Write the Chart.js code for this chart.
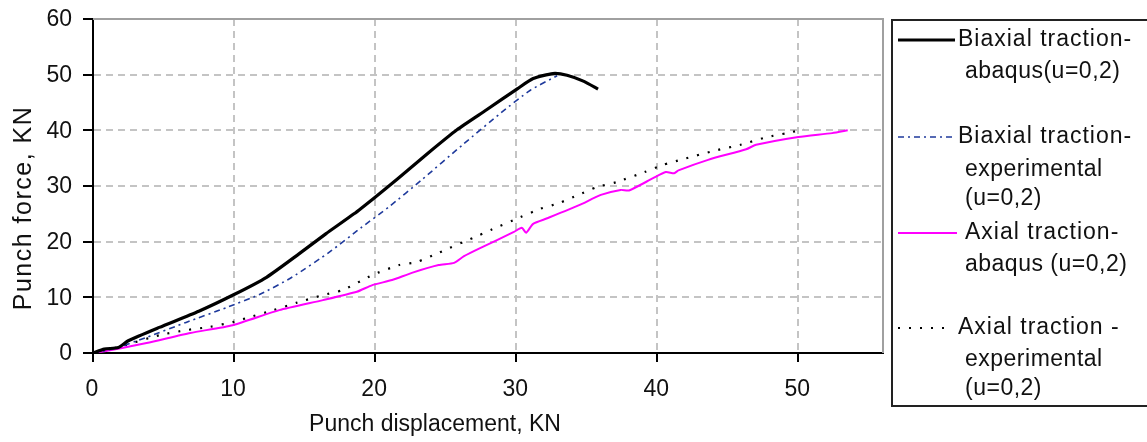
<!DOCTYPE html>
<html><head><meta charset="utf-8">
<script src="https://cdn.jsdelivr.net/npm/chart.js@4/dist/chart.umd.min.js"></script>
<style>html,body{margin:0;padding:0;background:#fff;overflow:hidden}#wrap{width:1147px;height:442px;position:relative}</style>
</head><body><div id="wrap"><canvas id="c" width="1147" height="442"></canvas></div>
<script>
// ---- data ----
const xTicks = [0, 10, 20, 30, 40, 50];
const yTicks = [0, 10, 20, 30, 40, 50, 60];
const xTitle = "Punch displacement, KN";
const yTitle = "Punch force, KN";

const biaxAbaqusX = [0, 0.8, 1.8, 2.5, 4.7, 7.5, 10, 12.3, 14.6, 16.5, 18.5, 20, 21.6, 23.7, 25.8, 27.9, 30.1, 31.2, 32.6, 33.6, 34.8, 35.8];
const biaxAbaqusY = [0, 0.7, 1.0, 2.2, 4.6, 7.5, 10.5, 13.6, 17.8, 21.4, 25.0, 28.0, 31.3, 35.8, 40.1, 43.7, 47.5, 49.3, 50.2, 49.9, 48.8, 47.4];

const biaxExpX = [0, 1.5, 3.8, 6.6, 9.5, 11.8, 14.1, 16.8, 19, 21, 23.3, 26.2, 28.9, 31, 32.9];
const biaxExpY = [0, 0.8, 2.8, 5.5, 8.2, 10.5, 13.6, 18.2, 22.5, 26.3, 31.1, 37.4, 43.1, 47.2, 49.8];

const axAbaqusX = [0, 1.2, 3.8, 6.9, 9.9, 13.2, 16.3, 18.7, 19.8, 21.2, 22.6, 24.5, 25.6, 26.3, 27.4, 29.8, 30.4, 30.7, 31.2, 32.2, 34.5, 36, 37.4, 38, 39.7, 40.6, 41.2, 41.5, 43.6, 46.3, 47, 50, 52.4, 53.5];
const axAbaqusY = [0, 0.5, 1.8, 3.6, 5.0, 7.7, 9.5, 11.0, 12.2, 13.1, 14.4, 15.8, 16.2, 17.4, 18.8, 21.7, 22.5, 21.6, 23.2, 24.2, 26.6, 28.4, 29.3, 29.2, 31.4, 32.5, 32.3, 32.8, 34.7, 36.6, 37.4, 38.8, 39.5, 40.0];

const axExpX = [0, 2, 4.7, 6.6, 8.3, 10, 10.9, 12.8, 14.4, 16.3, 17.7, 19.8, 21.7, 22.9, 24.5, 27.4, 28.2, 30.3, 31.7, 33, 34.4, 35.7, 37.1, 39.1, 40.4, 41.8, 44, 45.9, 47.8, 49.2, 50.4];
const axExpY = [0, 1.2, 3.2, 4.1, 4.7, 5.6, 6.3, 7.7, 9.0, 10.4, 11.3, 14.0, 15.8, 16.3, 18.0, 21.2, 22.1, 24.4, 25.9, 26.9, 28.4, 29.8, 30.7, 32.5, 33.8, 34.8, 36.3, 37.4, 38.8, 39.5, 40.2];

const seriesLabels = [
  ["Biaxial traction-", "abaqus(u=0,2)"],
  ["Biaxial traction-", "experimental", "(u=0,2)"],
  ["Axial traction-", "abaqus (u=0,2)"],
  ["Axial traction -", "experimental", "(u=0,2)"]
];

const pts = (xs, ys) => xs.map((x, i) => ({x: x, y: ys[i]}));

const FONT = "'Liberation Sans', Arial, sans-serif";

const datasets = [
  {label: seriesLabels[0].join(' '), data: pts(biaxAbaqusX, biaxAbaqusY), borderColor: '#000000', borderWidth: 3.2, borderDash: []},
  {label: seriesLabels[1].join(' '), data: pts(biaxExpX, biaxExpY), borderColor: '#1f3a9c', borderWidth: 1.6, borderDash: [6, 4, 2, 4]},
  {label: seriesLabels[2].join(' '), data: pts(axAbaqusX, axAbaqusY), borderColor: '#ff00ff', borderWidth: 2, borderDash: []},
  {label: seriesLabels[3].join(' '), data: pts(axExpX, axExpY), borderColor: '#000000', borderWidth: 2.2, borderDash: [2, 9]}
].map(d => Object.assign(d, {showLine: true, pointRadius: 0, fill: false, tension: 0.2}));

// frame (top/right grey borders)
const framePlugin = {
  id: 'frame',
  beforeDatasetsDraw(chart) {
    const {ctx, chartArea: a} = chart;
    ctx.save();
    ctx.strokeStyle = '#a0a0a0';
    ctx.lineWidth = 2;
    ctx.beginPath();
    ctx.moveTo(a.left, a.top);
    ctx.lineTo(a.right, a.top);
    ctx.lineTo(a.right, a.bottom);
    ctx.stroke();
    ctx.restore();
  }
};

// tick marks, tick labels, titles + custom legend
const annotPlugin = {
  id: 'annot',
  afterDraw(chart) {
    const ctx = chart.ctx;
    const xs = chart.scales.x, ys = chart.scales.y;
    const a = chart.chartArea;
    ctx.save();
    // tick marks
    ctx.strokeStyle = '#000';
    ctx.lineWidth = 2;
    ctx.setLineDash([]);
    ctx.beginPath();
    yTicks.forEach(v => { const p = Math.round(ys.getPixelForValue(v)); ctx.moveTo(a.left - 10, p); ctx.lineTo(a.left, p); });
    xTicks.forEach(v => { const p = Math.round(xs.getPixelForValue(v)); ctx.moveTo(p, a.bottom); ctx.lineTo(p, a.bottom + 9); });
    ctx.stroke();

    // tick labels
    ctx.fillStyle = '#111';
    ctx.font = '23px ' + FONT;
    ctx.textBaseline = 'middle';
    ctx.textAlign = 'right';
    yTicks.forEach(v => ctx.fillText(String(v), 72, ys.getPixelForValue(v) + 1));
    ctx.textAlign = 'center';
    xTicks.forEach(v => ctx.fillText(String(v), xs.getPixelForValue(v) - 1, 390));

    // x title
    ctx.textAlign = 'center';
    ctx.font = '23px ' + FONT;
    ctx.fillText(xTitle, 435, 425);
    // y title
    ctx.save();
    ctx.translate(24, 208);
    ctx.rotate(-Math.PI / 2);
    ctx.font = '25px ' + FONT;
    try { ctx.letterSpacing = '1.5px'; } catch (e) {}
    ctx.fillText(yTitle, 0, 0);
    ctx.restore();

    // legend box
    ctx.strokeStyle = '#222';
    ctx.lineWidth = 2;
    ctx.strokeRect(892, 20, 270, 386);
    const rows = [
      {ly: 40, lx1: 898, lx2: 955, tx: [958, 965], ty: [40, 72]},
      {ly: 137, lx1: 898, lx2: 954, tx: [958, 965, 965], ty: [137, 170, 199]},
      {ly: 233, lx1: 898, lx2: 957, tx: [965, 965], ty: [233, 265]},
      {ly: 328, lx1: 898, lx2: 948, tx: [958, 965, 965], ty: [328, 360, 389]}
    ];
    ctx.font = '23px ' + FONT;
    ctx.textAlign = 'left';
    rows.forEach((r, i) => {
      const ds = chart.data.datasets[i];
      ctx.save();
      ctx.strokeStyle = ds.borderColor;
      ctx.lineWidth = ds.borderWidth;
      ctx.setLineDash(ds.borderDash);
      ctx.beginPath();
      ctx.moveTo(r.lx1, r.ly);
      ctx.lineTo(r.lx2, r.ly);
      ctx.stroke();
      ctx.restore();
      seriesLabels[i].forEach((t, j) => {
        try { ctx.letterSpacing = j === 0 ? '1px' : '0.5px'; } catch (e) {}
        ctx.fillText(t, r.tx[j], r.ty[j]);
      });
    });
    ctx.restore();
  }
};

new Chart(document.getElementById('c'), {
  type: 'scatter',
  data: {datasets: datasets},
  options: {
    responsive: false,
    animation: false,
    devicePixelRatio: 1,
    layout: {padding: {left: 0, top: 19, right: 264, bottom: 0}},
    plugins: {legend: {display: false}, tooltip: {enabled: false}},
    scales: {
      x: {
        type: 'linear', min: 0, max: 56,
        afterBuildTicks: s => { s.ticks = xTicks.map(v => ({value: v})); },
        afterFit: s => { s.height = 89; },
        ticks: {display: false},
        grid: {color: '#c4c4c4', lineWidth: 2, drawTicks: false, borderDash: [7, 5]},
        border: {color: '#000', width: 2, dash: [7, 5]}
      },
      y: {
        type: 'linear', min: 0, max: 60,
        afterBuildTicks: s => { s.ticks = yTicks.map(v => ({value: v})); },
        afterFit: s => { s.width = 93; },
        ticks: {display: false},
        grid: {color: '#c4c4c4', lineWidth: 2, drawTicks: false, borderDash: [7, 5]},
        border: {color: '#000', width: 2, dash: [7, 5]}
      }
    }
  },
  plugins: [framePlugin, annotPlugin]
});
</script>
</body></html>
